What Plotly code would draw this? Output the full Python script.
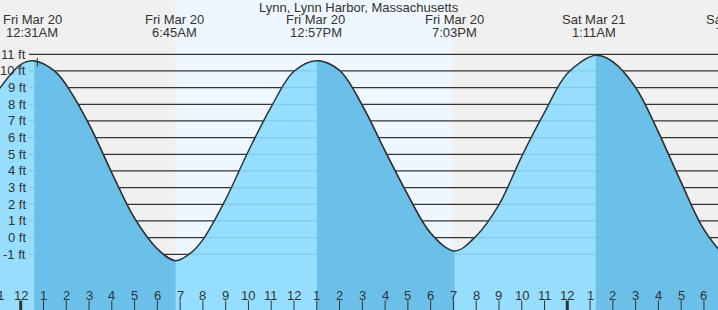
import plotly.graph_objects as go

# ---------------- data ----------------
station = "Lynn, Lynn Harbor, Massachusetts"

# hours since Fri Mar 20 00:00 and water height (ft)
curve_hours = [-1, 0, 0.6, 1.5, 2, 3, 4, 5, 6, 6.8, 7.5, 8, 9, 10, 11, 12,
               13.0, 14, 15, 16, 17, 18, 19.05, 20, 21, 22, 23, 24, 25.25,
               26, 27, 28, 29, 30, 31, 31.6]
curve_feet = [8.8, 10.38, 10.6, 9.98, 9.15, 6.79, 3.88, 1.15, -0.68, -1.38,
              -0.88, -0.12, 2.3, 5.2, 7.85, 9.98, 10.62, 10.03, 7.92, 5.19,
              2.55, 0.27, -0.8, 0.1, 1.98, 4.88, 7.51, 9.85, 10.94, 10.55, 9.0,
              6.32, 3.3, 0.48, -1.15, -1.5]
# high / low turning points of the curve: falling tide is shaded darker
falling_from = [0.6, 13.0, 25.25]
falling_to = [6.8, 19.05, 31.6]

# high / low tide labels
event_days = ["Fri Mar 20", "Fri Mar 20", "Fri Mar 20", "Fri Mar 20",
              "Sat Mar 21", "Sat Mar 21"]
event_times = ["12:31AM", "6:45AM", "12:57PM", "7:03PM", "1:11AM", "7:31AM"]
event_day_offset = [0, 0, 0, 0, 24, 24]

# daylight (hours since Fri Mar 20 00:00)
sunrise_hours = [6.78]
sunset_hours = [18.96]

# current-time marker
now_hours = [0.73]

# axis ticks
hour_ticks = list(range(-1, 32))
foot_ticks = list(range(-1, 12))

# ---------------- layout constants ----------------
W, H = 718, 310
X_RANGE = [-0.909, 30.617]
Y_RANGE = [-4.342, 14.258]
FONT = "Liberation Sans, Arial, Helvetica, sans-serif"
TXT = "#333333"
NIGHT = "#f0f0f0"
DAY = "#eef7ff"
RISE = "rgba(140,218,255,0.9)"
FALL = "rgba(101,189,229,0.9)"
CLEAR = "rgba(0,0,0,0)"


def parse_time(s):
    hm, ap = s[:-2], s[-2:]
    h, m = hm.split(":")
    h = int(h) % 12 + (12 if ap == "PM" else 0)
    return h + int(m) / 60.0


def xpaper(h):
    return (h - X_RANGE[0]) / (X_RANGE[1] - X_RANGE[0])


def hour_label(h):
    v = h % 12
    return str(12 if v == 0 else v)


def add_water(fig, fill, xa, ya):
    fig.add_trace(go.Scatter(x=[curve_hours[0], curve_hours[-1]],
                             y=[Y_RANGE[0], Y_RANGE[0]], mode="lines",
                             line=dict(width=0), hoverinfo="skip",
                             showlegend=False, xaxis=xa, yaxis=ya))
    fig.add_trace(go.Scatter(x=curve_hours, y=curve_feet, mode="lines",
                             fill="tonexty", fillcolor=fill,
                             line=dict(color=TXT, width=1.5, shape="spline",
                                       smoothing=1),
                             hoverinfo="skip", showlegend=False,
                             xaxis=xa, yaxis=ya))


fig = go.Figure()
# whole tide curve (rising colour)
add_water(fig, RISE, "x", "y")

layout_axes = {}
# falling-tide bands: the same curve redrawn in sub-plots clipped to each band
for k, (a, b) in enumerate(zip(falling_from, falling_to), start=2):
    a = max(a, X_RANGE[0])
    b = min(b, X_RANGE[1])
    add_water(fig, FALL, f"x{k}", f"y{k}")
    layout_axes[f"xaxis{k}"] = dict(domain=[xpaper(a), xpaper(b)],
                                    range=[a, b], visible=False,
                                    anchor=f"y{k}", fixedrange=True)
    layout_axes[f"yaxis{k}"] = dict(domain=[0, 1], range=Y_RANGE,
                                    visible=False, anchor=f"x{k}",
                                    fixedrange=True)

shapes = []
# daylight band
for sr, ss in zip(sunrise_hours, sunset_hours):
    shapes.append(dict(type="rect", xref="x", yref="paper", x0=sr, x1=ss,
                       y0=0, y1=1, fillcolor=DAY, line=dict(width=0),
                       layer="below"))
# horizontal foot lines
for f in foot_ticks:
    shapes.append(dict(type="line", xref="paper", yref="y", x0=29 / W, x1=1,
                       y0=f, y1=f, line=dict(color=TXT, width=1.3),
                       layer="below"))
# hour ticks (thick at midnight)
for h in hour_ticks:
    if X_RANGE[0] <= h <= X_RANGE[1]:
        shapes.append(dict(type="line", xref="x", yref="paper", x0=h, x1=h,
                           y0=0, y1=9.5 / H,
                           line=dict(color=TXT, width=3 if h % 24 == 0 else 1)))
# now marker
for h in now_hours:
    shapes.append(dict(type="line", xref="x", yref="y", x0=h, x1=h,
                       y0=10.26, y1=10.78, line=dict(color=TXT, width=1)))

annotations = []
annotations.append(dict(text=station, xref="paper", yref="paper", x=0.5,
                        y=1 - 7 / H, xanchor="center", yanchor="middle",
                        showarrow=False, font=dict(size=13, color=TXT)))
for d, t, off in zip(event_days, event_times, event_day_offset):
    hx = xpaper(parse_time(t) + off)
    annotations.append(dict(text=d, xref="paper", yref="paper", x=hx,
                            y=1 - 20 / H, xanchor="center", yanchor="middle",
                            showarrow=False, font=dict(size=13, color=TXT)))
    annotations.append(dict(text=t, xref="paper", yref="paper", x=hx,
                            y=1 - 32.5 / H, xanchor="center", yanchor="middle",
                            showarrow=False, font=dict(size=13, color=TXT)))
for f in foot_ticks:
    annotations.append(dict(text=f"{f} ft", xref="paper", yref="y",
                            x=27.5 / W, y=f, xanchor="right", yanchor="middle",
                            showarrow=False, font=dict(size=13, color=TXT)))
for h in hour_ticks:
    annotations.append(dict(text=hour_label(h), xref="paper", yref="paper",
                            x=xpaper(h), y=1 - 295.5 / H, xanchor="center",
                            yanchor="middle", showarrow=False,
                            font=dict(size=13, color=TXT)))

fig.update_layout(
    width=W, height=H, margin=dict(l=0, r=0, t=0, b=0, pad=0),
    paper_bgcolor=NIGHT, plot_bgcolor=CLEAR, showlegend=False,
    font=dict(family=FONT, size=13, color=TXT),
    shapes=shapes, annotations=annotations,
    xaxis=dict(range=X_RANGE, domain=[0, 1], visible=False, showgrid=False,
               zeroline=False, fixedrange=True),
    yaxis=dict(range=Y_RANGE, domain=[0, 1], visible=False, showgrid=False,
               zeroline=False, fixedrange=True),
    **layout_axes,
)

fig.write_html("out.html", config={"displayModeBar": False})
